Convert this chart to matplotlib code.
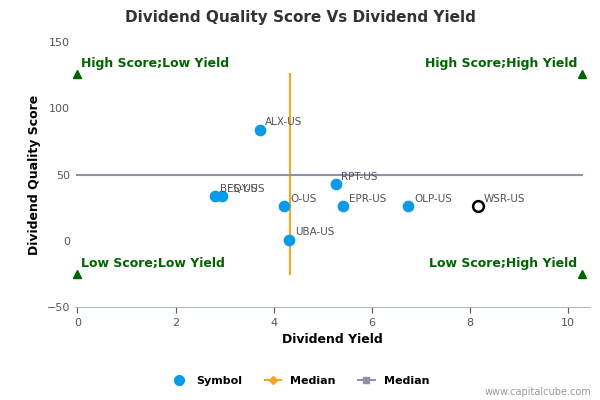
import matplotlib.pyplot as plt
from matplotlib.lines import Line2D

symbols = ["ALX-US", "RPT-US", "EPR-US", "OLP-US", "O-US", "UBA-US", "BFS-US", "EQY-US"]
yields = [3.72, 5.27, 5.42, 6.75, 4.22, 4.32, 2.80, 2.94]
scores = [84, 43, 26, 26, 26, 1, 34, 34]
hl_symbol, hl_yield, hl_score = "WSR-US", 8.17, 26
median_yield = 4.33
median_score = 50
x_min, x_max = 0, 10.3
y_low, y_high = -25, 126

fig = plt.figure(figsize=(6, 4), dpi=100)
ax = fig.add_axes([0.125, 0.232, 0.858, 0.663])
blue = "#0a9be8"
ax.scatter(yields, scores, s=55, color=blue, zorder=3)
for s, x, y in zip(symbols, yields, scores):
    ax.annotate(s, (x, y), xytext=(4, 3), textcoords="offset points", fontsize=7.5, color="#555555")
ax.scatter([hl_yield], [hl_score], s=60, facecolor="white", edgecolor="black", linewidth=1.8, zorder=4)
ax.annotate(hl_symbol, (hl_yield, hl_score), xytext=(4, 3), textcoords="offset points", fontsize=7.5, color="#555555")

ax.plot([median_yield, median_yield], [y_low, y_high], color="#f5a623", lw=1.5, zorder=2)
ax.plot([x_min, x_max], [median_score, median_score], color="#8e94a8", lw=1.5, zorder=2)

green = "#006400"
for x, y in [(x_min, y_high), (x_max, y_high), (x_min, y_low), (x_max, y_low)]:
    ax.plot(x, y, marker="^", color=green, ms=6, clip_on=False, zorder=5)
kw = dict(color=green, fontsize=9, fontweight="bold")
ax.text(0.08, 131, "High Score;Low Yield", ha="left", **kw)
ax.text(10.2, 131, "High Score;High Yield", ha="right", **kw)
ax.text(0.08, -20, "Low Score;Low Yield", ha="left", **kw)
ax.text(10.2, -20, "Low Score;High Yield", ha="right", **kw)

ax.set_xlim(-0.05, 10.45)
ax.set_ylim(-50, 150)
ax.set_xticks([0, 2, 4, 6, 8, 10])
ax.set_yticks([-50, 0, 50, 100, 150])
ax.tick_params(labelsize=8, colors="#555555", length=4)
ax.tick_params(axis="y", length=0)
for sp in ["top", "right", "left"]:
    ax.spines[sp].set_visible(False)
ax.spines["bottom"].set_color("#aab8c8")
ax.set_xlabel("Dividend Yield", fontsize=9, fontweight="bold")
ax.set_ylabel("Dividend Quality Score", fontsize=9, fontweight="bold")
fig.suptitle("Dividend Quality Score Vs Dividend Yield", x=0.5, y=0.975, fontsize=11, fontweight="bold", color="#333333")

handles = [
    Line2D([], [], marker="o", ls="none", color=blue, ms=7),
    Line2D([], [], marker="D", color="#f5a623", ms=4),
    Line2D([], [], marker="s", color="#8e94a8", ms=5),
]
fig.legend(handles, ["Symbol", "Median", "Median"], loc="center", bbox_to_anchor=(0.5, 0.047),
           ncol=3, frameon=False, prop={"size": 8, "weight": "bold"}, handlelength=1.5, columnspacing=2)
fig.text(0.985, 0.012, "www.capitalcube.com", ha="right", fontsize=7, color="#999999")
fig.savefig("out.png")
